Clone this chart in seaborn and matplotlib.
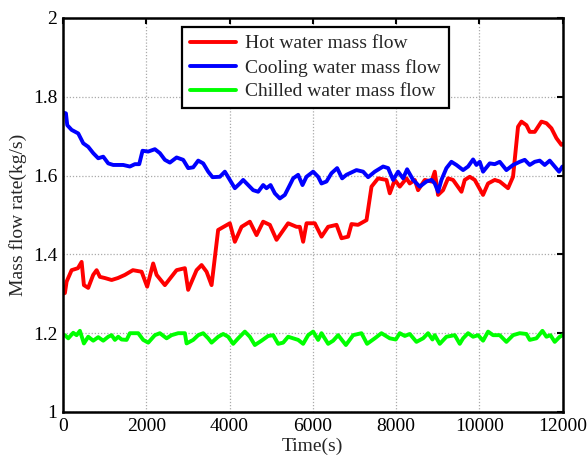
import numpy as np
import pandas as pd
import seaborn as sns
import matplotlib.pyplot as plt

# values
hot_t = [0, 48, 89, 209, 360, 449, 504, 607, 727, 809, 888, 1008, 1169, 1320, 1488, 1680,
         1889, 2023, 2167, 2249, 2448, 2729, 2928, 3007, 3209, 3329, 3449, 3569, 3727, 4008,
         4128, 4289, 4488, 4649, 4807, 4968, 5129, 5407, 5609, 5688, 5768, 5849, 6048, 6209,
         6367, 6569, 6689, 6847, 6929, 7087, 7289, 7409, 7567, 7769, 7848, 7968, 8088, 8249,
         8328, 8448, 8527, 8688, 8849, 8928, 9007, 9127, 9247, 9367, 9569, 9648, 9768, 9888,
         10087, 10207, 10368, 10488, 10687, 10807, 10927, 11009, 11129, 11208, 11328, 11489,
         11609, 11729, 11849, 11969, 12000]
hot_v = [1.30, 1.302, 1.331, 1.36, 1.365, 1.381, 1.322, 1.315, 1.348, 1.36, 1.343, 1.34, 1.335,
         1.34, 1.348, 1.36, 1.356, 1.318, 1.377, 1.348, 1.322, 1.36, 1.365, 1.31, 1.36, 1.373,
         1.356, 1.322, 1.462, 1.479, 1.432, 1.47, 1.483, 1.449, 1.483, 1.475, 1.437, 1.479,
         1.47, 1.47, 1.432, 1.479, 1.479, 1.445, 1.47, 1.475, 1.441, 1.445, 1.477, 1.475,
         1.487, 1.572, 1.593, 1.589, 1.555, 1.589, 1.572, 1.593, 1.58, 1.589, 1.563, 1.589,
         1.585, 1.61, 1.551, 1.563, 1.593, 1.589, 1.559, 1.589, 1.597, 1.589, 1.551, 1.58,
         1.589, 1.585, 1.568, 1.597, 1.724, 1.737, 1.728, 1.711, 1.711, 1.737, 1.733, 1.72,
         1.695, 1.678, 1.68]

cool_t = [0, 72, 104, 209, 368, 488, 608, 728, 848, 968, 1088, 1208, 1328, 1448, 1608, 1728,
          1832, 1912, 2048, 2208, 2328, 2448, 2568, 2729, 2888, 3008, 3128, 3248, 3368, 3488,
          3592, 3768, 3888, 4008, 4128, 4248, 4328, 4448, 4568, 4688, 4808, 4888, 4985, 5088,
          5208, 5328, 5448, 5528, 5648, 5752, 5848, 6008, 6128, 6208, 6328, 6448, 6584, 6704,
          6808, 7048, 7208, 7328, 7488, 7688, 7808, 7928, 8048, 8168, 8264, 8408, 8568, 8728,
          8848, 8928, 9008, 9088, 9208, 9328, 9448, 9608, 9728, 9848, 9928, 10008, 10088,
          10248, 10368, 10488, 10648, 10808, 10968, 11088, 11208, 11328, 11448, 11568, 11688,
          11808, 11912, 11993]
cool_v = [1.76, 1.758, 1.728, 1.716, 1.707, 1.682, 1.673, 1.657, 1.644, 1.648, 1.631, 1.627,
          1.627, 1.627, 1.623, 1.629, 1.629, 1.663, 1.661, 1.667, 1.657, 1.64, 1.633, 1.646,
          1.64, 1.619, 1.621, 1.638, 1.631, 1.61, 1.596, 1.597, 1.61, 1.589, 1.568, 1.58,
          1.589, 1.576, 1.563, 1.559, 1.576, 1.568, 1.576, 1.555, 1.542, 1.551, 1.576, 1.593,
          1.602, 1.576, 1.597, 1.61, 1.597, 1.58, 1.585, 1.606, 1.619, 1.593, 1.602, 1.614,
          1.61, 1.596, 1.61, 1.623, 1.619, 1.589, 1.61, 1.593, 1.616, 1.589, 1.572, 1.585,
          1.589, 1.58, 1.559, 1.589, 1.619, 1.635, 1.627, 1.614, 1.623, 1.641, 1.627, 1.635,
          1.61, 1.631, 1.629, 1.635, 1.614, 1.627, 1.635, 1.64, 1.627, 1.635, 1.638, 1.627,
          1.638, 1.623, 1.61, 1.623]

chill_t = [0, 48, 128, 248, 328, 408, 504, 608, 728, 848, 968, 1088, 1169, 1248, 1328, 1409,
           1529, 1608, 1808, 1928, 2048, 2208, 2328, 2489, 2608, 2768, 2928, 2969, 3128, 3248,
           3368, 3488, 3569, 3728, 3848, 3968, 4088, 4208, 4368, 4488, 4608, 4769, 4928, 5048,
           5168, 5288, 5408, 5528, 5648, 5768, 5888, 6008, 6128, 6208, 6368, 6488, 6608, 6794,
           6968, 7168, 7303, 7488, 7648, 7848, 7992, 8088, 8208, 8328, 8488, 8648, 8768, 8872,
           8928, 9048, 9208, 9408, 9528, 9608, 9728, 9848, 9968, 10088, 10208, 10328, 10488,
           10648, 10808, 10968, 11129, 11208, 11369, 11513, 11609, 11705, 11808, 11928, 12000]
chill_v = [1.195, 1.195, 1.187, 1.201, 1.195, 1.206, 1.174, 1.191, 1.181, 1.19, 1.181, 1.191,
           1.195, 1.183, 1.191, 1.184, 1.183, 1.2, 1.2, 1.183, 1.176, 1.195, 1.2, 1.187, 1.195,
           1.2, 1.2, 1.174, 1.183, 1.195, 1.2, 1.187, 1.176, 1.191, 1.198, 1.191, 1.173, 1.187,
           1.204, 1.191, 1.17, 1.181, 1.193, 1.195, 1.173, 1.176, 1.191, 1.187, 1.183, 1.173,
           1.195, 1.204, 1.183, 1.2, 1.173, 1.181, 1.195, 1.17, 1.195, 1.2, 1.173, 1.187, 1.2,
           1.187, 1.184, 1.2, 1.193, 1.198, 1.178, 1.187, 1.2, 1.184, 1.195, 1.173, 1.191,
           1.195, 1.173, 1.187, 1.2, 1.191, 1.195, 1.181, 1.204, 1.195, 1.195, 1.178, 1.195,
           1.2, 1.198, 1.183, 1.187, 1.206, 1.191, 1.195, 1.178, 1.191, 1.195]

labels = ["Hot water mass flow", "Cooling water mass flow", "Chilled water mass flow"]
colors = ["#ff0000", "#0000ff", "#00ff00"]
x_ticks = [0, 2000, 4000, 6000, 8000, 10000, 12000]
y_ticks = [1, 1.2, 1.4, 1.6, 1.8, 2]
y_tick_labels = ["1", "1.2", "1.4", "1.6", "1.8", "2"]

sns.set_style("white")
plt.rcParams['font.family'] = ['Liberation Serif', 'DejaVu Serif']

fig = plt.figure(figsize=(5.88, 4.59), dpi=100)
ax = fig.add_axes([0.107, 0.1024, 0.850, 0.8584])

for tt, vv, lab, col in zip([hot_t, cool_t, chill_t], [hot_v, cool_v, chill_v], labels, colors):
    sns.lineplot(x=tt, y=vv, color=col, linewidth=2.8, label=lab, ax=ax)

ax.set_xlim(0, 12000)
ax.set_ylim(1, 2)
ax.set_xticks(x_ticks)
ax.set_xticklabels([str(t) for t in x_ticks])
ax.set_yticks(y_ticks)
ax.set_yticklabels(y_tick_labels)
ax.grid(True, color="#aaaaaa", linestyle=(0, (1, 1.5)), linewidth=0.9)
ax.tick_params(direction="in", length=4, width=1.5, labelsize=14, top=True, right=True,
               labeltop=False, labelright=False, colors="black", pad=4)
for sp in ax.spines.values():
    sp.set_linewidth(1.8)
    sp.set_color("black")

ax.set_xlabel("Time(s)", fontsize=14, labelpad=2)
ax.set_ylabel("Mass flow rate(kg/s)", fontsize=14, labelpad=4)

leg = ax.legend(loc="upper left", bbox_to_anchor=(0.238, 0.977), borderaxespad=0,
                fontsize=14, frameon=True, fancybox=False, handlelength=2.4,
                handletextpad=0.45, labelspacing=0.32, borderpad=0.4)
leg.get_frame().set_edgecolor("black")
leg.get_frame().set_linewidth(1.6)
leg.get_frame().set_alpha(1)

fig.savefig("out.png", dpi=100)
